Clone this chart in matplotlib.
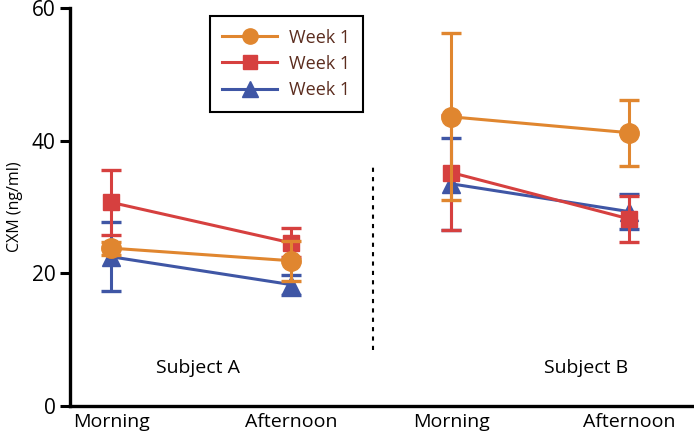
import matplotlib.pyplot as plt
from matplotlib.lines import Line2D

plt.rcParams['font.family'] = ['Open Sans', 'DejaVu Sans']

# Data
x_labels = ["Morning", "Afternoon", "Morning", "Afternoon"]
x_pos = [1, 2, 2.89, 3.88]
subjects = ["Subject A", "Subject B"]
legend_labels = ["Week 1", "Week 1", "Week 1"]

orange_vals = [23.8, 21.9, 43.6, 41.2]
orange_err = [1.0, 3.0, 12.6, 5.0]
red_vals = [30.7, 24.6, 35.2, 28.2]
red_err = [4.9, 2.2, 8.7, 3.5]
blue_vals = [22.5, 18.3, 33.5, 29.3]
blue_err = [5.2, 1.5, 6.9, 2.6]

c_orange = "#E0862F"
c_red = "#D6403F"
c_blue = "#3F56A5"

fig = plt.figure(figsize=(6.94, 4.33), dpi=100)
ax = fig.add_axes([0.101, 0.0624, 0.899, 0.919])

series = [
    (blue_vals, blue_err, c_blue, "^", 13, 1),
    (red_vals, red_err, c_red, "s", 12, 2),
    (orange_vals, orange_err, c_orange, "o", 14, 3),
]
for vals, err, col, mk, ms, z in series:
    for i in (0, 2):
        ax.errorbar(x_pos[i:i + 2], vals[i:i + 2], yerr=err[i:i + 2],
                    color=col, marker=mk, markersize=ms, linewidth=2.2,
                    elinewidth=2.2, capsize=7, capthick=2.4, zorder=z,
                    clip_on=False)

# divider between subjects
ax.plot([2.456, 2.456], [8.4, 36.1], color="black", linestyle=(0, (2, 2.5)),
        linewidth=1.5)

ax.text(1.48, 5.7, subjects[0], ha="center", va="center", fontsize=14)
ax.text(3.64, 5.7, subjects[1], ha="center", va="center", fontsize=14)

ax.set_xlim(0.772, 4.239)
ax.set_ylim(0, 60)
ax.set_yticks([0, 20, 40, 60])
ax.set_xticks(x_pos)
ax.set_xticklabels(x_labels)
ax.tick_params(axis="y", length=7, width=2.2, labelsize=15, direction="out")
ax.tick_params(axis="x", length=0, labelsize=14, pad=5)
ax.set_ylabel("CXM (ng/ml)", fontsize=11.5, labelpad=6)

for s in ["top", "right"]:
    ax.spines[s].set_visible(False)
ax.spines["left"].set_linewidth(2.4)
ax.spines["bottom"].set_linewidth(2.4)

handles = [
    Line2D([], [], color=c_orange, marker="o", markersize=11, linewidth=2.2),
    Line2D([], [], color=c_red, marker="s", markersize=10, linewidth=2.2),
    Line2D([], [], color=c_blue, marker="^", markersize=11, linewidth=2.2),
]
leg = ax.legend(handles, legend_labels, loc="upper left",
                bbox_to_anchor=(0.224, 0.98), borderaxespad=0, fontsize=13,
                fancybox=False, framealpha=1, edgecolor="black",
                handlelength=3.0, handletextpad=0.7, borderpad=0.7,
                labelspacing=0.45)
leg.get_frame().set_linewidth(1.5)
for t in leg.get_texts():
    t.set_color("#5B2C1E")

fig.savefig("out.png", dpi=100)
